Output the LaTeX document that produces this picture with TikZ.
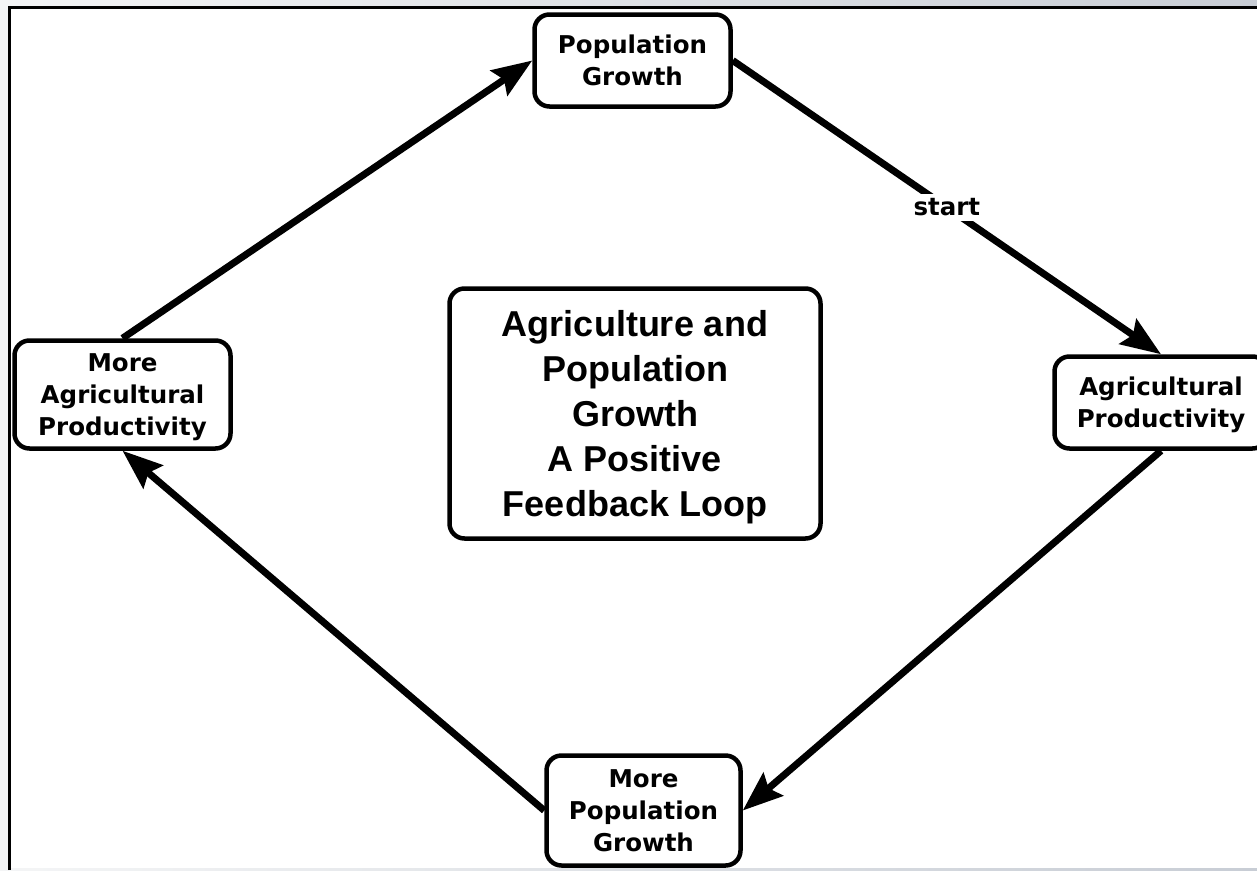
\documentclass[tikz,border=0pt]{standalone}
\usepackage{fontspec}
\setmainfont{Liberation Sans}
\newfontfamily\labelfont{DejaVu Sans}
\usetikzlibrary{arrows.meta}
\definecolor{edgegrey}{RGB}{200,205,213}
\definecolor{paleg}{RGB}{244,245,246}
\begin{document}
\begin{tikzpicture}[x=1pt,y=-1pt,
  box/.style={draw=black, line width=4.5pt, rounded corners=15pt, fill=white,
    inner sep=0pt, align=center, text depth=0pt,
    font=\labelfont\bfseries\fontsize{24.5}{32}\selectfont},
  titlebox/.style={box, font=\bfseries\fontsize{36}{45}\selectfont},
  link/.style={line width=7pt, -{Stealth[length=40pt,width=30pt,inset=6pt]}},
  tag/.style={fill=white, inner sep=5pt, font=\labelfont\bfseries\fontsize{24.5}{32}\selectfont},
]
\useasboundingbox (0,0) rectangle (1257,870);
% window background and page frame
\shade[left color=paleg, right color=edgegrey] (0,0) rectangle (1257,870);
\fill[white] (10,7.5) rectangle (1257,868);
\draw[line width=3.5pt] (9.5,870) -- (9.5,7.5) -- (1257,7.5);

% stages of the loop
\node[box, minimum width=196pt, minimum height=92pt] (pg) at (632.5,60.5) {Population\\Growth};
\node[box, minimum width=213pt, minimum height=92pt] (ap) at (1161,402.5) {Agricultural\\Productivity};
\node[box, minimum width=194pt, minimum height=110pt] (mpg) at (643.5,810.5) {More\\Population\\Growth};
\node[box, minimum width=216pt, minimum height=108pt] (map) at (122.5,394.5) {More\\Agricultural\\Productivity};

% caption in the middle
\node[titlebox, minimum width=371pt, minimum height=250pt] (title) at (635,413.5)
  {Agriculture and\\Population\\Growth\\A Positive\\Feedback Loop};

% feedback arrows
\draw[link] (pg.east) -- node[tag] (startlbl) {start} (ap.north);
\draw[link] (ap.south) -- (mpg.east);
\draw[link] (mpg.west) -- (map.south);
\draw[link] (map.north) -- (pg.west);
\end{tikzpicture}
\end{document}
